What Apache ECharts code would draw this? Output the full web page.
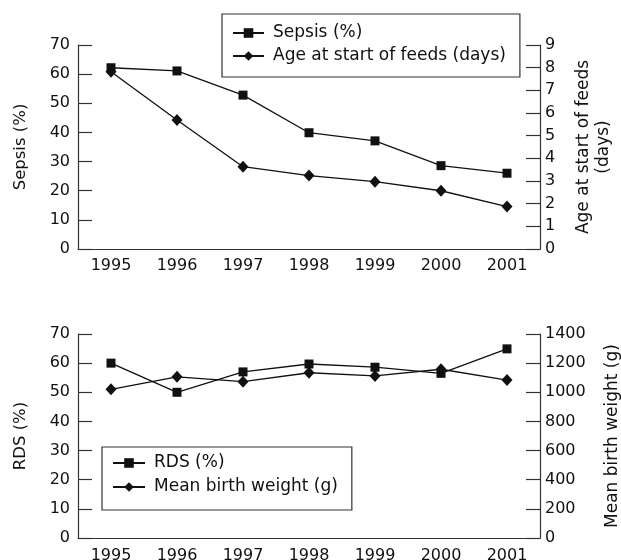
<!DOCTYPE html>
<html>
<head>
<meta charset="utf-8">
<script src="https://cdn.jsdelivr.net/npm/echarts@6/dist/echarts.min.js"></script>
<style>
html,body{margin:0;padding:0;background:#fff;}
#c{width:621px;height:560px;}
</style>
</head>
<body>
<div id="c"></div>
<script>
const years = ['1995','1996','1997','1998','1999','2000','2001'];
const sepsis = [62.2, 61.1, 52.8, 39.9, 37.1, 28.6, 26.0];
const ageStartFeeds = [7.82, 5.69, 3.63, 3.24, 2.97, 2.57, 1.87];
const rds = [60.0, 50.0, 57.0, 59.7, 58.6, 56.5, 64.9];
const birthWeight = [1020, 1106, 1073, 1134, 1112, 1158, 1084];

const FONT = 'DejaVu Sans';
const INK = '#111';
const AX = '#333';

function xAx(grid,margin){
  return {
    type:'category', gridIndex:grid, data:years, boundaryGap:true,
    axisLine:{lineStyle:{color:AX,width:1.2}},
    axisTick:{inside:true,length:13,interval:0,lineStyle:{color:AX,width:1.2}},
    axisLabel:{color:INK,fontFamily:FONT,fontSize:16,margin:margin,interval:0},
    splitLine:{show:false}
  };
}
function yAx(grid,pos,max,interval,name,gap,margin,nameSize){
  return {
    type:'value', gridIndex:grid, position:pos, min:0, max:max, interval:interval,
    name:name, nameLocation:'middle', nameGap:gap,
    nameTextStyle:{fontSize:nameSize,fontFamily:FONT,color:INK,lineHeight:20},
    axisLine:{show:true,lineStyle:{color:AX,width:1.2}},
    axisTick:{show:true,inside:true,length:14,lineStyle:{color:AX,width:1.2}},
    axisLabel:{color:INK,fontFamily:FONT,fontSize:16,margin:margin,formatter:function(v){return String(v);}},
    splitLine:{show:false}
  };
}
function ser(name,x,y,data,symbol,size){
  return {
    name:name, type:'line', xAxisIndex:x, yAxisIndex:y, data:data,
    symbol:symbol, symbolSize:size, showSymbol:true,
    lineStyle:{color:INK,width:1.3}, itemStyle:{color:INK},
    emphasis:{disabled:true}, animation:false
  };
}
const chart = echarts.init(document.getElementById('c'), null, {renderer:'canvas'});
chart.setOption({
  animation:false,
  backgroundColor:'#fff',
  grid:[
    {left:78, right:81, top:45, height:204, containLabel:false, outerBoundsMode:'none'},
    {left:78, right:81, top:334, height:204, containLabel:false, outerBoundsMode:'none'}
  ],
  xAxis:[xAx(0,9), xAx(1,10)],
  yAxis:[
    yAx(0,'left',70,10,'Sepsis (%)',47,8,16.5),
    yAx(0,'right',9,1,'Age at start of feeds\n(days)',34,5,17),
    yAx(1,'left',70,10,'RDS (%)',47,8,16.5),
    yAx(1,'right',1400,200,'Mean birth weight (g)',63,5,17)
  ],
  legend:[
    {
      data:['Sepsis (%)','Age at start of feeds (days)'],
      orient:'vertical', left:222, top:14,
      padding:[9,14,11,10], itemGap:3, itemWidth:31, itemHeight:12,
      borderColor:'#333', borderWidth:1.2,
      textStyle:{color:INK,fontFamily:FONT,fontSize:17,lineHeight:20,padding:[0,0,0,4]},
      selectedMode:false
    },
    {
      data:['RDS (%)','Mean birth weight (g)'],
      orient:'vertical', left:102, top:447,
      padding:[6,14,13,10], itemGap:4, itemWidth:32, itemHeight:12,
      borderColor:'#333', borderWidth:1.2,
      textStyle:{color:INK,fontFamily:FONT,fontSize:17,lineHeight:20,padding:[0,0,0,4]},
      selectedMode:false
    }
  ],
  series:[
    ser('Sepsis (%)',0,0,sepsis,'rect',9),
    ser('Age at start of feeds (days)',0,1,ageStartFeeds,'diamond',[11,12]),
    ser('RDS (%)',1,2,rds,'rect',9),
    ser('Mean birth weight (g)',1,3,birthWeight,'diamond',[11,12])
  ]
});
</script>
</body>
</html>
